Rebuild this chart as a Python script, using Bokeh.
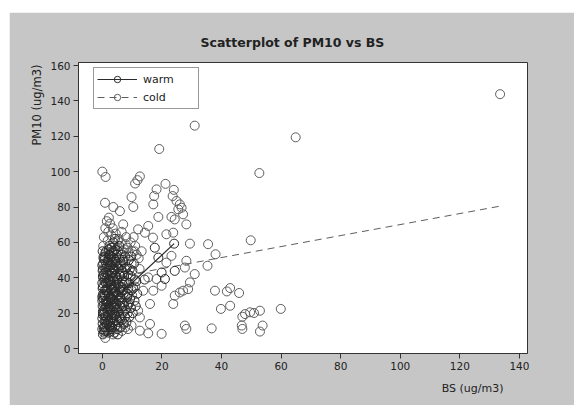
from bokeh.plotting import figure
from bokeh.models import Range1d, Spacer, Legend, LegendItem, Title
from bokeh.layouts import column, row
from bokeh.embed import file_html
from bokeh.resources import INLINE

# ---- data ----
warm_bs = [0.2, 0.5, 0.8, 1.0, 1.2, 1.5, 0.3, 0.6, 1.1, 0.4, 0.9, 1.3, 0.2, 0.7, 1.4, 0.5, 1.0, 0.3, 0.8, 1.6,
           2.0, 2.3, 2.6, 2.1, 2.8, 2.4, 2.0, 2.7, 2.2, 2.9, 2.5, 2.1, 2.6, 2.3, 2.8, 2.0, 2.5, 2.2, 2.9, 2.4,
           3.1, 3.5, 3.8, 3.3, 3.9, 3.6, 3.2, 3.7, 3.4, 3.0, 3.8, 3.5, 3.1, 3.6, 3.3, 3.9, 3.4, 3.0, 3.7, 3.2,
           4.1, 4.5, 4.8, 4.3, 4.9, 4.6, 4.2, 4.7, 4.4, 4.0, 4.8, 4.5, 4.1, 4.6, 4.3, 4.9, 4.4, 4.2, 4.7, 4.0,
           5.1, 5.5, 5.8, 5.3, 5.9, 5.6, 5.2, 5.7, 5.4, 5.0, 5.8, 5.5, 5.1, 5.6, 5.3, 5.9, 5.2, 5.7,
           6.2, 6.6, 6.9, 6.4, 6.8, 6.1, 6.5, 6.3, 6.7, 6.0, 6.6, 6.2, 6.8, 6.4, 6.1, 6.9,
           7.2, 7.6, 7.9, 7.4, 7.8, 7.1, 7.5, 7.3, 7.7, 7.0, 7.6, 7.2,
           8.1, 8.5, 8.8, 8.3, 8.7, 8.0, 8.6, 8.2, 8.9, 8.4,
           9.1, 9.6, 9.3, 9.8, 9.0, 9.5, 9.2, 9.7,
           10.2, 10.8, 10.4, 10.9, 10.1, 10.6, 11.2, 11.7, 11.4,
           14.2, 24.1, 24.3, 18.8, 17.6, 19.9, 21.0,
           0.0, 0.1, 0.0, 0.2, 0.1, 0.0, 0.3, 0.1, 0.0, 0.2, 0.1, 0.0, 0.4, 0.1, 0.0, 0.2,
           0.6, 0.9, 1.2, 0.7, 1.0, 1.3, 0.6, 0.9, 1.2, 0.8, 1.1, 1.4, 0.7, 1.0,
           1.7, 2.0, 1.8, 2.1, 1.9, 2.2, 1.7, 2.0, 1.8, 2.1, 1.9, 2.2,
           2.6, 3.0, 2.7, 3.1, 2.8, 3.2, 2.9, 3.3, 2.6, 3.0,
           3.5, 3.9, 4.3, 3.6, 4.0, 4.4, 3.7, 4.1, 4.5, 3.8]
warm_pm10 = [8, 12, 15, 10, 18, 14, 20, 22, 25, 28, 30, 33, 35, 38, 40, 42, 45, 48, 52, 26,
             9, 13, 16, 19, 21, 24, 27, 29, 31, 34, 36, 39, 41, 44, 47, 50, 53, 56, 11, 58,
             10, 14, 17, 20, 23, 26, 28, 31, 33, 36, 38, 40, 43, 46, 49, 51, 54, 57, 60, 12,
             9, 13, 16, 19, 22, 25, 27, 30, 32, 35, 37, 41, 44, 47, 50, 53, 56, 62, 18, 24,
             11, 15, 18, 21, 24, 27, 30, 33, 36, 39, 42, 45, 48, 51, 55, 29, 8, 58,
             12, 16, 20, 23, 26, 29, 32, 35, 38, 41, 44, 47, 50, 53, 17, 36,
             14, 18, 22, 26, 30, 33, 37, 41, 45, 49, 52, 24,
             15, 20, 25, 29, 34, 38, 42, 46, 50, 31,
             18, 23, 28, 33, 37, 41, 45, 52,
             20, 27, 34, 39, 44, 48, 24, 31, 38,
             39, 59.3, 43.9, 51.4, 57, 43, 39.3,
             11, 14, 17, 21, 24, 27, 31, 34, 37, 41, 44, 47, 51, 55, 29, 19,
             9, 12, 16, 20, 23, 27, 30, 33, 37, 40, 43, 46, 50, 54,
             10, 15, 19, 23, 26, 30, 33, 37, 42, 46, 49, 53,
             13, 17, 22, 25, 29, 34, 38, 43, 47, 52,
             15, 19, 23, 28, 32, 36, 40, 45, 49, 55]

cold_bs = [133.5, 64.9, 52.7, 31.0, 19.1, 0.0, 1.1, 12.6, 11.8, 11.0, 21.2, 9.8, 18.2, 17.4, 24.0, 23.6,
           24.9, 26.0, 26.6, 0.9, 3.7, 17.1, 10.4, 5.9, 18.8, 23.2, 24.3, 27.1, 28.2, 25.5, 7.0, 2.6,
           12.0, 15.4, 14.3, 17.0, 21.5, 23.8, 29.4, 35.5, 38.0, 35.3, 28.2, 27.7, 31.0, 29.4, 28.8,
           26.0, 24.3, 27.1, 23.8, 37.8, 41.8, 42.9, 45.9, 39.8, 42.9, 47.0, 47.9, 49.6, 50.9, 52.9,
           46.8, 47.0, 53.8, 52.9, 59.9, 36.7, 27.7, 28.2, 15.4, 16.0, 19.9, 9.8, 12.6, 19.9, 18.2,
           15.4, 17.1, 13.7, 16.0, 12.6, 12.0, 21.5, 23.2, 49.8,
           1.5, 2.2, 1.0, 2.0, 0.5, 3.0, 1.8, 4.5, 5.5, 3.5, 6.5, 8.0, 9.5, 11.0, 10.0, 8.5, 0.3, 1.2,
           0.2, 0.4, 0.5, 1.5, 2.5, 3.5, 0.8, 1.8, 2.8, 3.8, 4.8, 5.8, 6.8, 7.8, 0.2, 1.2, 2.2, 3.2,
           4.2, 5.2, 6.2, 7.3, 8.8, 9.8, 10.8, 11.5, 12.2, 1.0, 0.6, 2.6, 3.6, 6.6, 7.7, 8.6, 0.1,
           2.0, 4.0, 6.0, 7.0, 9.0, 10.0, 11.0, 12.5, 13.2, 10.5]
cold_pm10 = [143.8, 119.4, 99.2, 126.0, 112.8, 100.0, 97.0, 97.3, 95.2, 93.3, 93.1, 85.6, 90.0, 86.2, 89.7, 86.2,
             83.4, 81.5, 79.6, 82.4, 80.0, 81.5, 80.0, 77.7, 74.4, 74.4, 73.0, 75.9, 70.2, 78.7, 70.2, 70.6,
             67.4, 69.3, 65.5, 62.7, 64.6, 65.5, 59.3, 59.0, 53.3, 46.8, 49.6, 45.8, 42.1, 37.4, 33.6,
             31.7, 29.9, 32.7, 25.2, 32.7, 32.3, 34.2, 31.4, 22.4, 24.2, 18.0, 19.5, 20.5, 20.1, 21.4,
             13.0, 11.1, 13.0, 9.6, 22.4, 11.4, 13.0, 11.1, 8.6, 13.9, 8.3, 13.0, 10.1, 35.5, 39.3,
             40.2, 32.7, 32.7, 25.2, 17.6, 21.4, 48.6, 52.4, 61.2,
             72, 74, 68, 66, 63, 64, 61, 65, 62, 68, 66, 63, 60, 58, 55, 57, 58, 55,
             45, 52, 25, 32, 38, 45, 18, 22, 28, 34, 40, 47, 55, 59, 40, 48, 51, 55,
             58, 61, 60, 56, 54, 48, 55, 53, 51, 6, 10, 12, 8, 10, 12, 11, 30,
             15, 20, 35, 43, 26, 30, 35, 45, 55, 63]

# fitted lines
warm_fit_bs = [0.0, 24.1]
warm_fit_pm10 = [21.5, 59.3]
cold_fit_bs = [0.0, 133.5]
cold_fit_pm10 = [39.0, 80.5]

x_ticks = [0, 20, 40, 60, 80, 100, 120, 140]
y_ticks = [0, 20, 40, 60, 80, 100, 120, 140, 160]

FONT = "DejaVu Sans"
WARM = "#2a2a2a"
COLD = "#5e5e5e"
BG = "#c6c6c6"
TXT = "#222222"

p = figure(width=565, height=393, output_backend="svg", toolbar_location=None,
           x_range=Range1d(-8, 142.7), y_range=Range1d(-2.8, 161.7),
           min_border_left=69, min_border_right=47, min_border_top=50, min_border_bottom=52)
p.border_fill_color = BG
p.background_fill_color = "white"
p.outline_line_color = "#333333"
p.outline_line_width = 1
p.grid.visible = False

p.title.text = "Scatterplot of PM10 vs BS"
p.title.align = "left"
p.title.offset = 122
p.title.text_font = FONT
p.title.text_font_size = "12.5px"
p.title.text_font_style = "bold"
p.title.text_color = TXT
p.title.standoff = 26

for ax in (p.xaxis[0], p.yaxis[0]):
    ax.major_tick_in = 0
    ax.major_tick_out = 5
    ax.minor_tick_line_color = None
    ax.axis_line_color = "#333333"
    ax.major_tick_line_color = "#333333"
    ax.major_label_text_font = FONT
    ax.major_label_text_font_size = "10.5px"
    ax.major_label_text_color = TXT
    ax.major_label_standoff = 3
p.xaxis[0].ticker = x_ticks
p.yaxis[0].ticker = y_ticks

p.add_layout(Title(text="PM10 (ug/m3)", align="right", offset=2, text_font=FONT,
                   text_font_size="11.5px", text_font_style="normal", text_color=TXT,
                   standoff=7), "left")
p.add_layout(Title(text="BS (ug/m3)", align="right", offset=24, text_font=FONT,
                   text_font_size="11px", text_font_style="normal", text_color=TXT,
                   standoff=14), "below")

cold_line = p.line(cold_fit_bs, cold_fit_pm10, line_color=COLD, line_width=1, line_dash="7 5")
cold_pts = p.scatter(cold_bs, cold_pm10, marker="circle", size=9, fill_color=None,
                     line_color=COLD, line_width=1)
warm_pts = p.scatter(warm_bs, warm_pm10, marker="circle", size=9, fill_color=None,
                     line_color=WARM, line_width=1)
warm_line = p.line(warm_fit_bs, warm_fit_pm10, line_color=WARM, line_width=1.2)

legend = Legend(items=[LegendItem(label="warm", renderers=[warm_line, warm_pts]),
                       LegendItem(label="cold", renderers=[cold_line, cold_pts])],
                location=(15, 244), orientation="vertical")
legend.label_text_font = FONT
legend.label_text_font_size = "11px"
legend.label_text_color = TXT
legend.glyph_width = 40
legend.glyph_height = 16
legend.label_height = 16
legend.label_width = 52
legend.label_standoff = 6
legend.padding = 3
legend.spacing = 2
legend.margin = 0
legend.border_line_color = "#333333"
legend.background_fill_alpha = 1
p.add_layout(legend, "center")

layout = column(Spacer(width=574, height=12),
                row(Spacer(width=9, height=393), p))

open("out.html", "w").write(file_html(layout, INLINE))
